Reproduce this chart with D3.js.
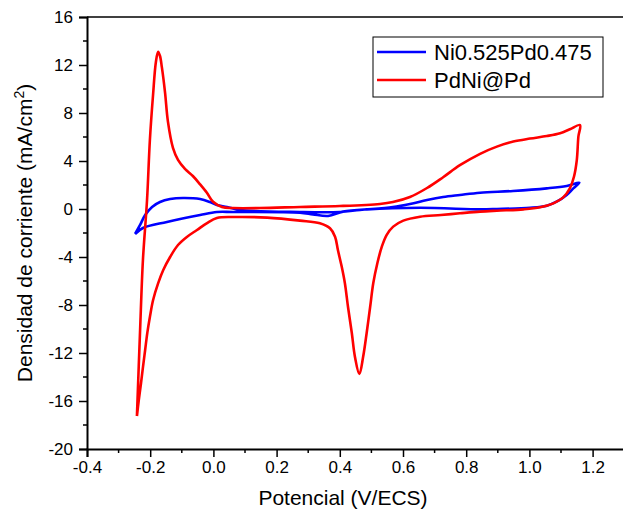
<!DOCTYPE html>
<html>
<head>
<meta charset="utf-8">
<script src="https://cdn.jsdelivr.net/npm/d3@7"></script>
<style>
  body { margin: 0; background: #fff; }
  text { font-family: "Liberation Sans", Arial, sans-serif; fill: #000; }
</style>
</head>
<body>
<div id="cv"></div>
<script>
// PdNi@Pd  (red) - potential (V/ECS), current density (mA/cm2)
const redPotential = [-0.242,-0.232,-0.223,-0.210,-0.201,-0.191,-0.182,-0.175,-0.169,-0.163,-0.153,-0.144,-0.128,-0.112,-0.090,-0.065,-0.042,-0.020,-0.001,0.027,0.062,0.147,0.274,0.400,0.527,0.568,0.622,0.676,0.727,0.780,0.844,0.897,0.949,1.002,1.055,1.097,1.128,1.160,
  1.155,1.150,1.141,1.128,1.107,1.076,1.034,0.981,0.897,0.844,0.780,0.720,0.654,0.601,0.569,0.548,0.533,0.519,0.506,0.496,0.485,0.474,0.462,0.448,0.438,0.426,0.416,0.406,0.394,0.385,0.369,0.337,0.274,0.170,0.062,0.011,-0.020,-0.052,-0.084,-0.112,-0.137,-0.159,-0.175,-0.191,-0.201,-0.209,-0.216,-0.223,-0.229,-0.236,-0.242];
const redCurrent = [-17.25,-10.1,-4.25,0.75,5.75,9.5,12.25,13.1,12.75,11.8,9.7,7.3,5.1,4.1,3.35,2.75,2.05,1.33,0.6,0.17,0.08,0.08,0.17,0.25,0.42,0.58,1.0,1.75,2.65,3.65,4.6,5.2,5.62,5.87,6.08,6.31,6.64,7.0,
  6.03,4.08,2.69,1.72,0.97,0.47,0.14,-0.03,-0.14,-0.22,-0.36,-0.5,-0.64,-0.97,-1.47,-2.17,-3.14,-4.5,-6.17,-8.17,-10.33,-12.3,-13.75,-12.33,-10.33,-8.17,-6.17,-4.8,-3.42,-2.31,-1.61,-1.19,-0.97,-0.72,-0.67,-0.75,-1.17,-1.75,-2.33,-3.0,-4.0,-5.1,-6.2,-7.6,-9.0,-10.3,-11.75,-13.2,-14.5,-15.9,-17.25];

// Ni0.525Pd0.475 (blue)
const bluePotential = [-0.248,-0.232,-0.216,-0.194,-0.169,-0.137,-0.096,-0.042,-0.011,0.011,0.043,0.084,0.274,0.400,0.464,0.568,0.622,0.676,0.727,0.780,0.844,0.948,1.055,1.118,1.158,
  1.139,1.118,1.086,1.055,1.002,0.897,0.844,0.654,0.486,0.410,0.363,0.315,0.274,0.062,0.011,-0.042,-0.147,-0.223,-0.248];
const blueCurrent = [-2.08,-1.33,-0.5,0.17,0.58,0.83,0.92,0.83,0.58,0.33,0.17,-0.08,-0.25,-0.25,-0.08,0.17,0.42,0.75,1.0,1.17,1.36,1.5,1.72,1.92,2.19,
  1.72,1.17,0.61,0.28,0.11,0.0,-0.03,0.1,-0.03,-0.22,-0.58,-0.45,-0.31,-0.25,-0.25,-0.5,-1.08,-1.58,-2.08];

const xTicks = [-0.4,-0.2,0.0,0.2,0.4,0.6,0.8,1.0,1.2];
const xMinor = [-0.3,-0.1,0.1,0.3,0.5,0.7,0.9,1.1];
const yTicks = [-20,-16,-12,-8,-4,0,4,8,12,16];
const yMinor = [-18,-14,-10,-6,-2,2,6,10,14];
const seriesNames = ["Ni0.525Pd0.475", "PdNi@Pd"];
const seriesColors = ["#0000ff", "#ff0000"];

const W = 623, H = 511;
const margin = {top: 17, left: 87, bottom: 62};

const svg = d3.select("#cv").append("svg")
    .attr("width", W)
    .attr("height", H);

let x = d3.scaleLinear().domain([-0.4, 1.3]).range([margin.left, margin.left + 1.7 * 316]);
let y = d3.scaleLinear().domain([-20, 16]).range([H - margin.bottom, margin.top]);

// top frame line
svg.append("line")
    .attr("x1", x(-0.4)).attr("x2", x(1.3))
    .attr("y1", y(16)).attr("y2", y(16))
    .attr("stroke", "#000").attr("stroke-width", 1.6);

let xAxis = g => g
    .attr("transform", `translate(0,${y(-20)})`)
    .call(d3.axisBottom(x).tickValues(xTicks).tickFormat(d3.format(".1f")).tickSize(8).tickPadding(4))
    .call(g => g.selectAll(".minor").data(xMinor).join("line")
        .attr("class", "minor")
        .attr("x1", d => x(d)).attr("x2", d => x(d))
        .attr("y1", 0).attr("y2", 4)
        .attr("stroke", "#000"));

let yAxis = g => g
    .attr("transform", `translate(${x(-0.4)},0)`)
    .call(d3.axisLeft(y).tickValues(yTicks).tickSize(8).tickPadding(6))
    .call(g => g.selectAll(".minor").data(yMinor).join("line")
        .attr("class", "minor")
        .attr("x1", 0).attr("x2", -4)
        .attr("y1", d => y(d)).attr("y2", d => y(d))
        .attr("stroke", "#000"));

const gx = svg.append("g").call(xAxis);
const gy = svg.append("g").call(yAxis);

[gx, gy].forEach(g => {
  g.select(".domain").attr("stroke-width", 2);
  g.selectAll("line").attr("stroke-width", 1.5);
  g.selectAll(".tick text")
    .attr("font-family", "Liberation Sans, Arial, sans-serif")
    .attr("font-size", 17)
    .text(function() { return d3.select(this).text().replace("\u2212", "-"); });
});

// curves
const line = d3.line()
    .x(d => x(d[0]))
    .y(d => y(d[1]))
    .curve(d3.curveCatmullRom.alpha(0.5));

const blueData = bluePotential.map((v, i) => [v, blueCurrent[i]]);
const redData = redPotential.map((v, i) => [v, redCurrent[i]]);

svg.append("path")
    .datum(blueData)
    .attr("d", line)
    .attr("fill", "none")
    .attr("stroke", seriesColors[0])
    .attr("stroke-width", 2.6)
    .attr("stroke-linejoin", "round");

svg.append("path")
    .datum(redData)
    .attr("d", line)
    .attr("fill", "none")
    .attr("stroke", seriesColors[1])
    .attr("stroke-width", 2.6)
    .attr("stroke-linejoin", "round");

// axis titles
svg.append("text")
    .attr("x", 343)
    .attr("y", 505)
    .attr("text-anchor", "middle")
    .attr("font-size", 21)
    .text("Potencial (V/ECS)");

const yt = svg.append("text")
    .attr("transform", `translate(32,${(y(16) + y(-20)) / 2}) rotate(-90)`)
    .attr("text-anchor", "middle")
    .attr("font-size", 21);
yt.append("tspan").text("Densidad de corriente (mA/cm");
yt.append("tspan").attr("font-size", 14).attr("dy", -8).text("2");
yt.append("tspan").attr("dy", 8).text(")");

// legend
const legend = svg.append("g");
legend.append("rect")
    .attr("x", 373).attr("y", 37)
    .attr("width", 230).attr("height", 60)
    .attr("fill", "#fff")
    .attr("stroke", "#000")
    .attr("stroke-width", 1);

const items = legend.selectAll(".item")
    .data(seriesNames)
    .join("g")
      .attr("class", "item")
      .attr("transform", (d, i) => `translate(0,${52 + i * 28})`);

items.append("line")
    .attr("x1", 377).attr("x2", 426)
    .attr("stroke", (d, i) => seriesColors[i])
    .attr("stroke-width", 2.6);

items.append("text")
    .attr("x", 434)
    .attr("y", 8)
    .attr("font-size", 22)
    .text(d => d);
</script>
</body>
</html>
